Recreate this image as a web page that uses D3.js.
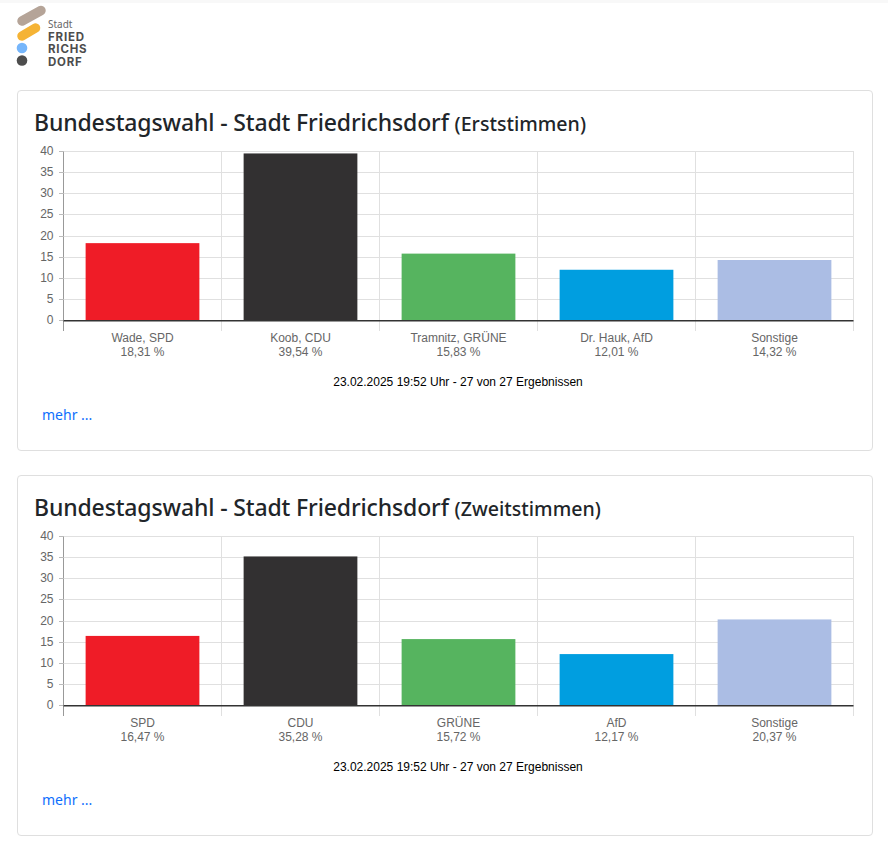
<!DOCTYPE html>
<html lang="de">
<head>
<meta charset="utf-8">
<title>Bundestagswahl - Stadt Friedrichsdorf</title>
<script src="https://cdn.jsdelivr.net/npm/d3@7"></script>
<style>
body { margin: 0; background: #fff; width: 888px; height: 852px; overflow: hidden; position: relative; font-family: "Noto Sans", sans-serif; }
.topbar { position: absolute; left: 0; top: 0; width: 888px; height: 3px; background: #f8f8f8; }
.logo { position: absolute; left: 0; top: 0; }
.card { position: absolute; left: 17px; width: 854px; height: 359px; border: 1px solid #dfdfdf; border-radius: 4px; }
.card h3 { position: absolute; left: 16px; top: 13px; margin: 0; font-size: 23px; letter-spacing: -0.14px; line-height: 36px; font-weight: 500; color: #212529; white-space: nowrap; }
.card h3 small { font-size: 19.6px; letter-spacing: 0; }
.card svg { position: absolute; left: -18px; top: -91px; }
.card a { position: absolute; left: 24px; top: 312px; font-size: 14px; line-height: 24px; color: #0d6efd; text-decoration: none; z-index: 1; }
</style>
</head>
<body>
<div class="topbar"></div>
<svg class="logo" width="120" height="80"></svg>
<div class="card" id="card1" style="top:90px"><h3>Bundestagswahl - Stadt Friedrichsdorf <small>(Erststimmen)</small></h3><a href="#">mehr ...</a></div>
<div class="card" id="card2" style="top:475px"><h3>Bundestagswahl - Stadt Friedrichsdorf <small>(Zweitstimmen)</small></h3><a href="#">mehr ...</a></div>
<script>
const erstNamen = ["Wade, SPD", "Koob, CDU", "Tramnitz, GRÜNE", "Dr. Hauk, AfD", "Sonstige"]
const erstWerte = [18.31, 39.54, 15.83, 12.01, 14.32]
const zweitNamen = ["SPD", "CDU", "GRÜNE", "AfD", "Sonstige"]
const zweitWerte = [16.47, 35.28, 15.72, 12.17, 20.37]
const farben = ["#ef1c27", "#323031", "#56b45f", "#009ee0", "#abbde4"]
const yTicks = [0, 5, 10, 15, 20, 25, 30, 35, 40]
const stand = "23.02.2025 19:52 Uhr - 27 von 27 Ergebnissen"

const width = 888, height = 400
const margin = { top: 151.5, right: 34.5, left: 63.5 }
const plotHeight = 169

const de = d3.formatLocale({ decimal: ",", thousands: ".", grouping: [3], currency: ["", " €"] })
const fmt = de.format(".2f")

var viz = (cardId, namen, werte) => {
    const svg = d3.select(cardId).append("svg")
        .attr("width", width)
        .attr("height", height)
        .style("font-family", "Arial, 'Liberation Sans', sans-serif")

    const y = d3.scaleLinear().domain([0, 40]).range([margin.top + plotHeight, margin.top])
    // eine Spalte ist 158px breit, der Balken 114px
    const x = d3.scaleBand().domain(namen).range([margin.left, width - margin.right]).paddingInner(0.28).paddingOuter(0.14)
    const spalte = d3.scaleBand().domain(namen).range([margin.left, width - margin.right])

    const grid = svg.append("g").attr("stroke", "#e0e0e0").attr("shape-rendering", "crispEdges")
    grid.selectAll(".h").data(yTicks).join("line")
        .attr("x1", margin.left).attr("x2", width - margin.right)
        .attr("y1", d => y(d)).attr("y2", d => y(d))
    grid.selectAll(".v").data(namen.slice(1).map(spalte).concat([width - margin.right])).join("line")
        .attr("x1", d => d).attr("x2", d => d)
        .attr("y1", margin.top).attr("y2", y(0) + 10)

    // y ticks
    svg.append("line").attr("x1", margin.left).attr("x2", margin.left)
        .attr("y1", margin.top).attr("y2", y(0) + 10).attr("stroke", "#999").attr("shape-rendering", "crispEdges")
    svg.selectAll(".ytick").data(yTicks).join("line")
        .attr("x1", margin.left - 5).attr("x2", margin.left)
        .attr("y1", d => y(d)).attr("y2", d => y(d))
        .attr("stroke", "#bbb").attr("shape-rendering", "crispEdges")
    svg.selectAll(".ylabel").data(yTicks).join("text")
        .attr("x", margin.left - 10).attr("y", d => y(d) + 3.5)
        .attr("text-anchor", "end").attr("font-size", 12).attr("fill", "#666")
        .text(d => d)

    svg.selectAll(".bar").data(werte).join("rect")
        .attr("x", (d, i) => x(namen[i]))
        .attr("y", d => y(d))
        .attr("width", x.bandwidth())
        .attr("height", d => y(0) - y(d))
        .attr("fill", (d, i) => farben[i])

    svg.append("line").attr("x1", margin.left).attr("x2", width - margin.right)
        .attr("y1", y(0) + 0.25).attr("y2", y(0) + 0.25).attr("stroke", "#333").attr("stroke-width", 1.5)

    const cx = n => x(n) + x.bandwidth() / 2
    svg.selectAll(".name").data(namen).join("text")
        .attr("x", cx).attr("y", y(0) + 21.5)
        .attr("text-anchor", "middle").attr("font-size", 12).attr("fill", "#666")
        .text(d => d)
    svg.selectAll(".wert").data(werte).join("text")
        .attr("x", (d, i) => cx(namen[i])).attr("y", y(0) + 35.5)
        .attr("text-anchor", "middle").attr("font-size", 12).attr("fill", "#666")
        .text(d => fmt(d) + " %")
    svg.append("text").attr("x", 458).attr("y", y(0) + 65.5)
        .attr("text-anchor", "middle").attr("font-size", 12).attr("fill", "#000")
        .text(stand)

    svg.style("pointer-events", "none")
}

viz("#card1", erstNamen, erstWerte)
viz("#card2", zweitNamen, zweitWerte)

// logo
const logo = d3.select(".logo")
logo.append("line").attr("x1", 22).attr("y1", 21).attr("x2", 41).attr("y2", 10.5)
    .attr("stroke", "#b5a498").attr("stroke-width", 9.5).attr("stroke-linecap", "round")
logo.append("line").attr("x1", 22).attr("y1", 36).attr("x2", 35.5).attr("y2", 28)
    .attr("stroke", "#f5b335").attr("stroke-width", 9.5).attr("stroke-linecap", "round")
logo.append("circle").attr("cx", 22).attr("cy", 48).attr("r", 5.3).attr("fill", "#76b6fb")
logo.append("circle").attr("cx", 22).attr("cy", 60.5).attr("r", 5.3).attr("fill", "#4d4d4d")
logo.append("text").attr("x", 48).attr("y", 28).attr("font-size", 10).attr("fill", "#666").text("Stadt")
logo.selectAll(".w").data(["FRIED", "RICHS", "DORF"]).join("text")
    .attr("x", 48).attr("y", (d, i) => 40.5 + i * 12.7)
    .attr("font-family", "Inter, sans-serif")
    .attr("font-size", 11.5).attr("letter-spacing", 0.8).attr("font-weight", 700).attr("fill", "#4d4d4d")
    .text(d => d)
</script>
</body>
</html>
